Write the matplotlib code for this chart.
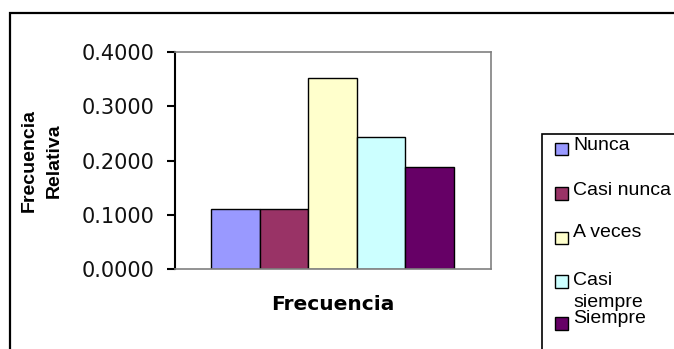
import matplotlib
matplotlib.use("Agg")
import matplotlib.pyplot as plt
from matplotlib.patches import Rectangle

# Relative frequency per answer category
categories = ["Nunca", "Casi nunca", "A veces", "Casi siempre", "Siempre"]
legend_labels = ["Nunca", "Casi nunca", "A veces", "Casi\nsiempre", "Siempre"]
rel_freq = [0.111, 0.111, 0.353, 0.243, 0.188]
colors = ["#9999FF", "#993366", "#FFFFCC", "#CCFFFF", "#660066"]
yticks = [0.0, 0.1, 0.2, 0.3, 0.4]

W, H = 674, 349


def fx(px):
    return px / W


def fy(py):
    return 1 - py / H


fig = plt.figure(figsize=(W / 100, H / 100), dpi=100)

# outer chart border (runs off the right and bottom edges)
fig.patches.append(Rectangle((fx(10), fy(H + 20)), fx(W + 20) - fx(10), fy(13) - fy(H + 20),
                             transform=fig.transFigure, fill=False, edgecolor="black",
                             linewidth=1.6, zorder=0))

ax = fig.add_axes([fx(175), fy(269), fx(491) - fx(175), fy(52.3) - fy(269)])

x = list(range(len(categories)))
ax.bar(x, rel_freq, width=1.0, color=colors, edgecolor="black", linewidth=1.0, zorder=2)

ax.set_xlim(-1.24, 5.26)
ax.set_ylim(0, 0.4)
ax.set_yticks(yticks)
ax.set_yticklabels([f"{v:.4f}" for v in yticks], fontsize=15, family="DejaVu Sans", color="#111111")
ax.set_xticks([])
ax.tick_params(axis="y", direction="out", length=6, width=1.5, pad=9, color="black")

for side in ["top", "right", "bottom"]:
    ax.spines[side].set_color("#808080")
    ax.spines[side].set_linewidth(1.2)
ax.spines["left"].set_color("black")
ax.spines["left"].set_linewidth(1.5)

ax.set_xlabel("Frecuencia", fontsize=14.5, fontweight="bold", family="DejaVu Sans", labelpad=19)
fig.text(fx(42), fy(160.5), "Frecuencia\nRelativa", rotation=90, ha="center", va="center",
         multialignment="center", fontsize=14, fontweight="bold", family="Liberation Sans",
         linespacing=1.65)

# legend box, also cut by the edges
fig.patches.append(Rectangle((fx(542), fy(H + 20)), fx(W + 20) - fx(542), fy(134) - fy(H + 20),
                             transform=fig.transFigure, fill=False, edgecolor="black",
                             linewidth=1.2, zorder=1))
square_centers = [149, 193.5, 238, 281.5, 323.5]
text_baselines = [150, 195, 237, 307, 323]
for lab, col, cy, by in zip(legend_labels, colors, square_centers, text_baselines):
    s = 12.5
    fig.patches.append(Rectangle((fx(555), fy(cy + s / 2)), fx(s), s / H,
                                 transform=fig.transFigure, facecolor=col,
                                 edgecolor="black", linewidth=1.0, zorder=2))
    fig.text(fx(573), fy(by), lab, ha="left", va="baseline", fontsize=14,
             family="Liberation Sans", linespacing=1.35)

fig.savefig("out.png", dpi=100)
